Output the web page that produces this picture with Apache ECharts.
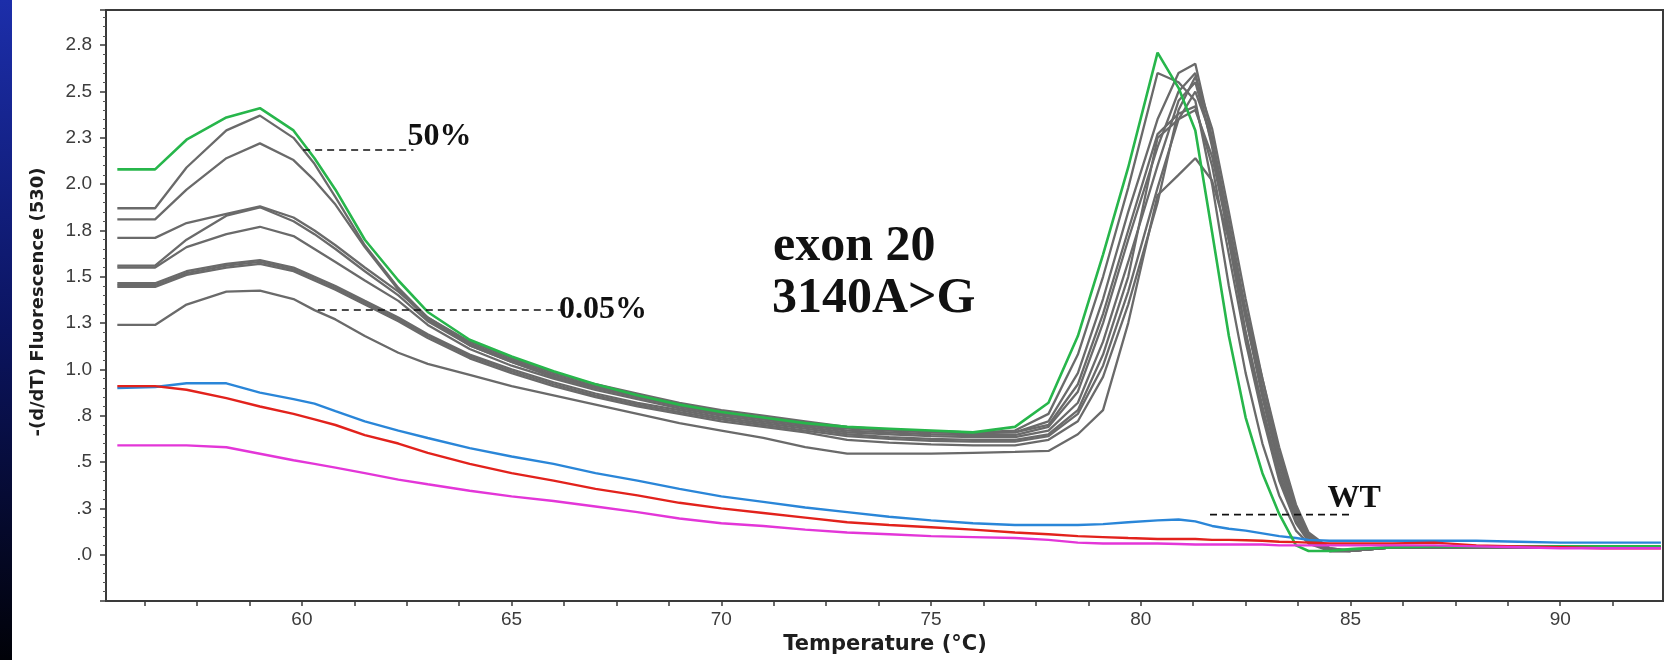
<!DOCTYPE html>
<html>
<head>
<meta charset="utf-8">
<script src="https://cdn.jsdelivr.net/npm/echarts@6/dist/echarts.min.js"></script>
<style>
html,body{margin:0;padding:0;background:#ffffff;}
#c{width:1664px;height:660px;}
</style>
</head>
<body>
<div id="c"></div>
<script>
// ---- data (temperature °C, -(d/dT) fluorescence) ----
const temps = [55.6, 56.5, 57.25, 58.2, 59.0, 59.8, 60.3, 60.8, 61.5, 62.3, 63.0, 64.0, 65.0, 66.0, 67.0, 68.0, 69.0, 70.0, 71.0, 72.0, 73.0, 74.0, 75.0, 76.0, 77.0, 77.8, 78.5, 79.1, 79.7, 80.4, 80.9, 81.3, 81.7, 82.1, 82.5, 82.9, 83.3, 83.7, 84.0, 84.5, 85.0, 86.0, 87.0, 88.0, 89.0, 90.0, 91.0, 92.4];

const green = [2.08, 2.08, 2.24, 2.36, 2.41, 2.29, 2.14, 1.97, 1.70, 1.48, 1.31, 1.16, 1.07, 0.99, 0.92, 0.86, 0.81, 0.77, 0.74, 0.71, 0.69, 0.68, 0.67, 0.66, 0.69, 0.82, 1.18, 1.62, 2.09, 2.71, 2.52, 2.29, 1.74, 1.18, 0.74, 0.44, 0.22, 0.05, 0.02, 0.02, 0.03, 0.04, 0.045, 0.045, 0.045, 0.045, 0.045, 0.045];

const gray1 = [1.87, 1.87, 2.09, 2.29, 2.37, 2.25, 2.11, 1.93, 1.67, 1.44, 1.28, 1.14, 1.05, 0.97, 0.91, 0.86, 0.81, 0.77, 0.74, 0.71, 0.685, 0.675, 0.665, 0.66, 0.67, 0.76, 1.08, 1.50, 1.98, 2.60, 2.55, 2.45, 2.00, 1.45, 0.98, 0.60, 0.32, 0.13, 0.06, 0.02, 0.03, 0.04, 0.04, 0.04, 0.04, 0.04, 0.04, 0.04];
const gray2 = [1.81, 1.81, 1.97, 2.14, 2.22, 2.13, 2.02, 1.89, 1.66, 1.43, 1.27, 1.13, 1.04, 0.96, 0.90, 0.85, 0.80, 0.76, 0.73, 0.70, 0.68, 0.67, 0.66, 0.655, 0.66, 0.72, 0.98, 1.38, 1.85, 2.35, 2.60, 2.65, 2.25, 1.70, 1.20, 0.78, 0.42, 0.18, 0.08, 0.02, 0.02, 0.04, 0.04, 0.04, 0.04, 0.04, 0.04, 0.04];
const gray3 = [1.71, 1.71, 1.79, 1.84, 1.88, 1.82, 1.75, 1.67, 1.55, 1.42, 1.28, 1.15, 1.06, 0.98, 0.92, 0.87, 0.82, 0.78, 0.75, 0.72, 0.69, 0.675, 0.665, 0.66, 0.66, 0.70, 0.92, 1.30, 1.75, 2.27, 2.38, 2.42, 2.10, 1.62, 1.15, 0.75, 0.40, 0.17, 0.07, 0.02, 0.02, 0.04, 0.04, 0.04, 0.04, 0.04, 0.04, 0.04];
const gray4 = [1.56, 1.56, 1.70, 1.83, 1.875, 1.80, 1.73, 1.65, 1.53, 1.40, 1.26, 1.13, 1.04, 0.96, 0.90, 0.85, 0.80, 0.76, 0.73, 0.70, 0.67, 0.66, 0.65, 0.645, 0.645, 0.69, 0.88, 1.25, 1.70, 2.20, 2.50, 2.60, 2.20, 1.70, 1.20, 0.80, 0.44, 0.19, 0.08, 0.02, 0.02, 0.04, 0.04, 0.04, 0.04, 0.04, 0.04, 0.04];
const gray5 = [1.55, 1.55, 1.66, 1.73, 1.77, 1.72, 1.65, 1.58, 1.48, 1.37, 1.24, 1.11, 1.02, 0.95, 0.89, 0.84, 0.79, 0.75, 0.72, 0.69, 0.66, 0.65, 0.64, 0.635, 0.635, 0.67, 0.82, 1.15, 1.58, 2.10, 2.45, 2.55, 2.22, 1.75, 1.28, 0.85, 0.47, 0.21, 0.09, 0.025, 0.02, 0.04, 0.04, 0.04, 0.04, 0.04, 0.04, 0.04];
const gray6 = [1.465, 1.465, 1.53, 1.57, 1.59, 1.55, 1.50, 1.45, 1.37, 1.28, 1.19, 1.08, 1.00, 0.93, 0.87, 0.82, 0.78, 0.74, 0.71, 0.68, 0.65, 0.635, 0.625, 0.62, 0.62, 0.65, 0.78, 1.08, 1.50, 2.25, 2.35, 2.40, 2.15, 1.72, 1.28, 0.88, 0.50, 0.23, 0.10, 0.03, 0.02, 0.04, 0.04, 0.04, 0.04, 0.04, 0.04, 0.04];
const gray7 = [1.455, 1.455, 1.52, 1.56, 1.58, 1.54, 1.49, 1.44, 1.36, 1.27, 1.18, 1.07, 0.99, 0.92, 0.86, 0.81, 0.77, 0.73, 0.70, 0.67, 0.64, 0.625, 0.615, 0.61, 0.61, 0.64, 0.76, 1.02, 1.42, 1.98, 2.35, 2.50, 2.25, 1.80, 1.32, 0.90, 0.52, 0.24, 0.10, 0.03, 0.02, 0.04, 0.04, 0.04, 0.04, 0.04, 0.04, 0.04];
const gray8 = [1.445, 1.445, 1.51, 1.55, 1.57, 1.53, 1.48, 1.43, 1.35, 1.26, 1.17, 1.06, 0.98, 0.91, 0.85, 0.80, 0.76, 0.72, 0.69, 0.66, 0.62, 0.605, 0.595, 0.59, 0.59, 0.62, 0.72, 0.96, 1.35, 1.90, 2.40, 2.58, 2.30, 1.85, 1.38, 0.95, 0.55, 0.25, 0.11, 0.035, 0.02, 0.04, 0.04, 0.04, 0.04, 0.04, 0.04, 0.04];
const gray9 = [1.24, 1.24, 1.35, 1.42, 1.425, 1.38, 1.32, 1.27, 1.18, 1.09, 1.03, 0.97, 0.91, 0.86, 0.81, 0.76, 0.71, 0.67, 0.63, 0.58, 0.545, 0.545, 0.545, 0.55, 0.555, 0.56, 0.65, 0.78, 1.25, 1.94, 2.05, 2.14, 2.02, 1.70, 1.32, 0.95, 0.58, 0.27, 0.12, 0.035, 0.02, 0.04, 0.04, 0.04, 0.04, 0.04, 0.04, 0.04];

const blue = [0.90, 0.905, 0.925, 0.925, 0.875, 0.84, 0.815, 0.775, 0.72, 0.67, 0.63, 0.575, 0.53, 0.49, 0.44, 0.40, 0.355, 0.315, 0.285, 0.255, 0.23, 0.205, 0.185, 0.17, 0.16, 0.16, 0.16, 0.165, 0.175, 0.185, 0.19, 0.18, 0.155, 0.14, 0.13, 0.115, 0.10, 0.09, 0.08, 0.075, 0.075, 0.075, 0.075, 0.075, 0.07, 0.065, 0.065, 0.065];
const red = [0.91, 0.91, 0.89, 0.845, 0.80, 0.76, 0.73, 0.70, 0.645, 0.60, 0.55, 0.49, 0.44, 0.40, 0.355, 0.32, 0.28, 0.25, 0.225, 0.20, 0.175, 0.16, 0.148, 0.135, 0.12, 0.11, 0.10, 0.095, 0.09, 0.085, 0.085, 0.085, 0.08, 0.08, 0.078, 0.075, 0.07, 0.068, 0.065, 0.06, 0.06, 0.06, 0.065, 0.05, 0.045, 0.04, 0.035, 0.035];
const magenta = [0.59, 0.59, 0.59, 0.58, 0.545, 0.51, 0.49, 0.47, 0.44, 0.405, 0.38, 0.345, 0.315, 0.29, 0.26, 0.23, 0.195, 0.17, 0.155, 0.135, 0.12, 0.11, 0.10, 0.095, 0.09, 0.08, 0.065, 0.06, 0.06, 0.06, 0.058, 0.055, 0.055, 0.055, 0.055, 0.055, 0.05, 0.05, 0.05, 0.05, 0.05, 0.05, 0.05, 0.045, 0.04, 0.035, 0.035, 0.035];

// ---- ticks ----
const xTickValues = [60, 65, 70, 75, 80, 85, 90];
const xTickLabels = ['60', '65', '70', '75', '80', '85', '90'];
const yTickValues = [0, 0.25, 0.5, 0.75, 1.0, 1.25, 1.5, 1.75, 2.0, 2.25, 2.5, 2.75];
const yTickLabels = ['.0', '.3', '.5', '.8', '1.0', '1.3', '1.5', '1.8', '2.0', '2.3', '2.5', '2.8'];

// ---- annotation leader lines (temperature, value) ----
const note50 = [[60.03, 2.184], [62.66, 2.184]];
const note005 = [[60.38, 1.321], [66.18, 1.321]];
const noteWT = [[81.65, 0.216], [85.07, 0.216]];
const noteTexts = ['50%', '0.05%', 'WT'];
const titleLines = ['exon 20', '3140A>G'];

// ---- build ----
const xMinorTicks = [];
for (let k = 0; k < 30; k++) { const v = 56.25 + k * 1.25; if (v < 92.45) xMinorTicks.push(Math.round(v * 100) / 100); }

function pts(arr) { return temps.map((t, i) => [t, arr[i]]); }
function lineSeries(name, arr, color, width, z) {
  return { type: 'line', name: name, data: pts(arr), symbol: 'none', showSymbol: false,
           lineStyle: { color: color, width: width }, z: z, silent: true, animation: false };
}
const series = [];
[gray1, gray2, gray3, gray4, gray5, gray6, gray7, gray8, gray9].forEach((g, i) => {
  series.push(lineSeries('gray' + (i + 1), g, '#6a6a6a', 2.3, 2));
});
series.push(lineSeries('blue', blue, '#2a86d8', 2.4, 3));
series.push(lineSeries('green', green, '#27b64b', 2.6, 3));
series.push(lineSeries('red', red, '#e2221c', 2.4, 3));
series.push(lineSeries('magenta', magenta, '#e336d8', 2.4, 3));
[note50, note005, noteWT].forEach((n, i) => {
  series.push({ type: 'line', name: 'note' + i, data: n, symbol: 'none', showSymbol: false,
    lineStyle: { color: '#111', width: 1.6, type: [7, 5] }, z: 4, silent: true, animation: false });
});

const axisColor = '#3a3a3a';
const tickFont = '"Liberation Sans", Arial, sans-serif';

const option = {
  animation: false,
  backgroundColor: '#ffffff',
  grid: { left: 106, right: 1, top: 10, bottom: 59, show: true, borderColor: axisColor, borderWidth: 2,
          backgroundColor: '#ffffff', containLabel: false, outerBoundsMode: 'none' },
  xAxis: {
    type: 'value', min: 55.33, max: 92.45, minInterval: 5, maxInterval: 5, splitNumber: 7,
    axisLine: { show: true, onZero: false, lineStyle: { color: axisColor, width: 2 } },
    axisTick: { show: true, length: 5, customValues: xMinorTicks, lineStyle: { color: axisColor, width: 1.5 } },
    axisLabel: { customValues: xTickValues, color: '#3c3c3c', fontFamily: tickFont, fontSize: 19, margin: 9,
      formatter: function (v) { const i = xTickValues.indexOf(Math.round(v * 100) / 100); return i >= 0 ? xTickLabels[i] : ''; } },
    splitLine: { show: false }
  },
  yAxis: {
    type: 'value', min: -0.25, max: 2.94, interval: 0.25,
    axisLine: { show: true, onZero: false, lineStyle: { color: axisColor, width: 2 } },
    axisTick: { show: true, length: 6, lineStyle: { color: axisColor, width: 1.5 } },
    minorTick: { show: true, splitNumber: 5, length: 3, lineStyle: { color: '#555', width: 1 } },
    axisLabel: { color: '#3c3c3c', fontFamily: tickFont, fontSize: 19, margin: 14,
      formatter: function (v) {
        for (let i = 0; i < yTickValues.length; i++) { if (Math.abs(v - yTickValues[i]) < 1e-6) return yTickLabels[i]; }
        return '';
      } },
    splitLine: { show: false }
  },
  series: series
};

const chart = echarts.init(document.getElementById('c'), null, { renderer: 'canvas' });
chart.setOption(option);

// ---- texts ----
const serif = '"Liberation Serif", "Times New Roman", serif';
const sansBold = '"DejaVu Sans", Verdana, sans-serif';
const ends = [note50[1], note005[1], noteWT[1]].map(p => chart.convertToPixel({ gridIndex: 0 }, p));
const noteOffsets = [[-6, -13], [-2, 0], [-26, -16]];
const graphics = [
  { type: 'rect', left: 0, top: 0, shape: { x: 0, y: 0, width: 12, height: 660 }, z: 10,
    style: { fill: new echarts.graphic.LinearGradient(0, 0, 0, 1, [
      { offset: 0, color: '#1c2eaa' }, { offset: 0.5, color: '#0b1460' }, { offset: 1, color: '#010208' } ]) } },
  { type: 'text', z: 10, style: { text: titleLines[0], x: 773, y: 247, font: 'bold 50px ' + serif, fill: '#111', align: 'left', verticalAlign: 'middle' } },
  { type: 'text', z: 10, style: { text: titleLines[1], x: 772, y: 299, font: 'bold 50px ' + serif, fill: '#111', align: 'left', verticalAlign: 'middle' } },
  { type: 'text', z: 10, style: { text: 'Temperature (°C)', x: 885, y: 645, font: 'bold 21px ' + sansBold, fill: '#1e1e1e', align: 'center', verticalAlign: 'middle' } },
  { type: 'text', z: 10, x: 38, y: 302, rotation: Math.PI / 2,
    style: { text: '-(d/dT) Fluorescence (530)', x: 0, y: 0, font: 'bold 18px ' + sansBold, fill: '#1e1e1e', align: 'center', verticalAlign: 'middle' } }
];
ends.forEach((p, i) => {
  graphics.push({ type: 'text', z: 10, style: { text: noteTexts[i], x: p[0] + noteOffsets[i][0], y: p[1] + noteOffsets[i][1],
    font: 'bold 32px ' + serif, fill: '#111', align: 'left', verticalAlign: 'middle' } });
});
chart.setOption({ graphic: graphics });
</script>
</body>
</html>
